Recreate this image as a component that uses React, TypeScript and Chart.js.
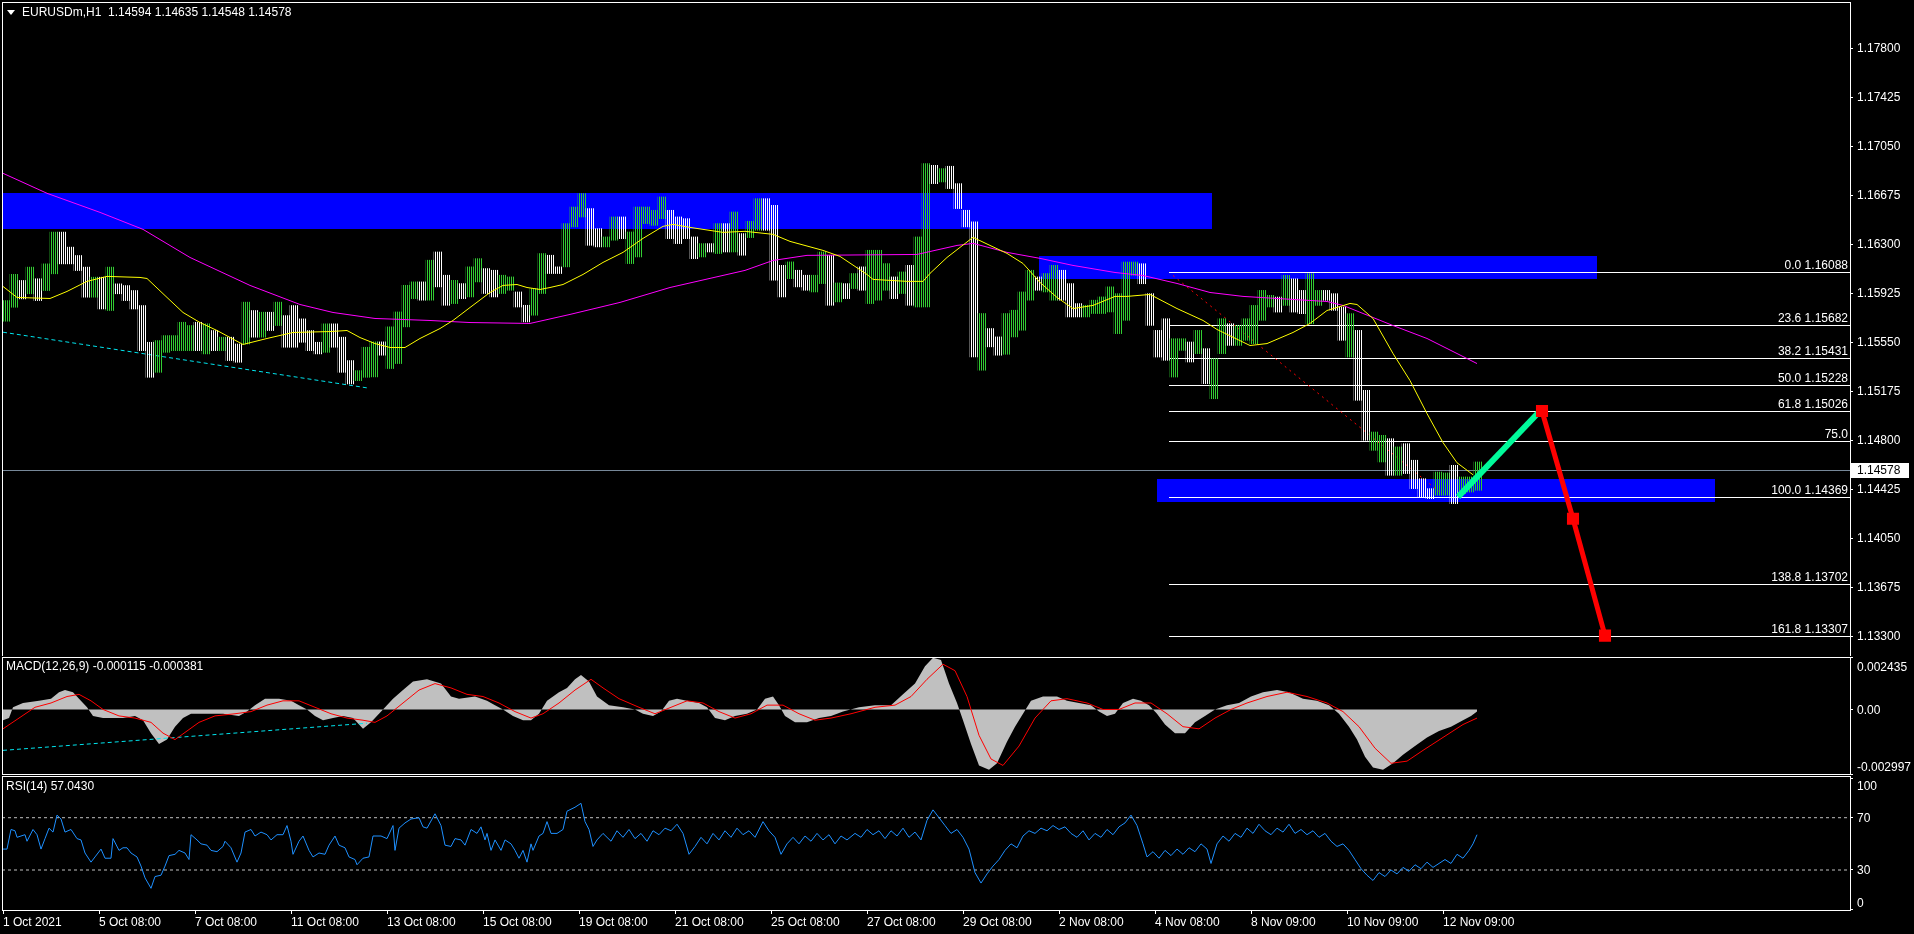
import React, { useEffect, useRef } from "react";
import { Chart, registerables } from "chart.js";

Chart.register(...registerables);

// ---------- text ----------
const titleText = "EURUSDm,H1  1.14594 1.14635 1.14548 1.14578";
const macdTitle = "MACD(12,26,9) -0.000115 -0.000381";
const rsiTitle = "RSI(14) 57.0430";
const lastPrice = 1.14578;
const lastPriceLabel = "1.14578";

// ---------- time axis (bar index) ----------
const timeTickBars = [0, 48, 96, 144, 192, 240, 288, 336, 384, 432, 480, 528, 576, 624, 672, 720];
const timeTickLabels = [
  "1 Oct 2021", "5 Oct 08:00", "7 Oct 08:00", "11 Oct 08:00", "13 Oct 08:00", "15 Oct 08:00",
  "19 Oct 08:00", "21 Oct 08:00", "25 Oct 08:00", "27 Oct 08:00", "29 Oct 08:00", "2 Nov 08:00",
  "4 Nov 08:00", "8 Nov 09:00", "10 Nov 09:00", "12 Nov 09:00",
];
const X_MIN = -0.5;
const X_MAX = 923.5;

// ---------- price axis ----------
const priceTicks = [1.133, 1.13675, 1.1405, 1.14425, 1.148, 1.15175, 1.1555, 1.15925, 1.163, 1.16675, 1.1705, 1.17425, 1.178];
const PRICE_MIN = 1.13151;
const PRICE_MAX = 1.18156;

// ---------- candles, 4 hourly bars per group ----------
const BARS_PER_GROUP = 4;
const candleHigh = [
  1.15871, 1.16072, 1.16025, 1.16127, 1.16038, 1.16152, 1.16395, 1.16395, 1.16280, 1.16216,
  1.16127, 1.16050, 1.16050, 1.16127, 1.15999, 1.15986, 1.15948, 1.15833, 1.15552, 1.15565,
  1.15603, 1.15603, 1.15705, 1.15680, 1.15705, 1.15693, 1.15642, 1.15591, 1.15591, 1.15539,
  1.15859, 1.15795, 1.15782, 1.15782, 1.15859, 1.15756, 1.15833, 1.15731, 1.15642, 1.15552,
  1.15693, 1.15693, 1.15591, 1.15412, 1.15335, 1.15514, 1.15555, 1.15555, 1.15670, 1.15784,
  1.15988, 1.16014, 1.16014, 1.16180, 1.16243, 1.16065, 1.16026, 1.16001, 1.16129, 1.16192,
  1.16116, 1.16103, 1.16065, 1.16052, 1.15937, 1.15835, 1.15963, 1.16231, 1.16218, 1.16129,
  1.16460, 1.16587, 1.16690, 1.16575, 1.16422, 1.16358, 1.16511, 1.16511, 1.16396, 1.16587,
  1.16587, 1.16562, 1.16664, 1.16562, 1.16511, 1.16498, 1.16358, 1.16307, 1.16307, 1.16460,
  1.16460, 1.16549, 1.16384, 1.16478, 1.16651, 1.16651, 1.16600, 1.16141, 1.16167, 1.16103,
  1.16065, 1.16065, 1.16243, 1.16218, 1.16006, 1.16001, 1.16078, 1.16129, 1.16256, 1.16256,
  1.16154, 1.16052, 1.16090, 1.16141, 1.16358, 1.16919, 1.16906, 1.16881, 1.16899, 1.16766,
  1.16562, 1.16473, 1.15772, 1.15657, 1.15593, 1.15772, 1.15797, 1.15937, 1.16103, 1.16052,
  1.16078, 1.16141, 1.16103, 1.16001, 1.15848, 1.15835, 1.15874, 1.15899, 1.15976, 1.15924,
  1.16166, 1.16166, 1.16153, 1.15924, 1.15643, 1.15732, 1.15579, 1.15579, 1.15554, 1.15643,
  1.15503, 1.15426, 1.15732, 1.15694, 1.15681, 1.15732, 1.15834, 1.15949, 1.15911, 1.15898,
  1.16064, 1.16038, 1.15949, 1.16077, 1.15949, 1.15949, 1.15924, 1.15822, 1.15771, 1.15643,
  1.15184, 1.14865, 1.14840, 1.14814, 1.14751, 1.14776, 1.14649, 1.14508, 1.14432, 1.14559,
  1.14552, 1.14610, 1.14521, 1.14521, 1.14636,
];
const candleLow = [
  1.15713, 1.15820, 1.15884, 1.15923, 1.15871, 1.15948, 1.16076, 1.16152, 1.16152, 1.16101,
  1.15897, 1.15897, 1.15807, 1.15795, 1.15923, 1.15871, 1.15807, 1.15488, 1.15284, 1.15322,
  1.15475, 1.15488, 1.15488, 1.15488, 1.15488, 1.15463, 1.15488, 1.15488, 1.15412, 1.15399,
  1.15539, 1.15591, 1.15591, 1.15642, 1.15680, 1.15514, 1.15514, 1.15552, 1.15488, 1.15463,
  1.15475, 1.15514, 1.15322, 1.15233, 1.15258, 1.15284, 1.15287, 1.15453, 1.15351, 1.15389,
  1.15670, 1.15886, 1.15874, 1.15874, 1.15976, 1.15835, 1.15848, 1.15886, 1.15899, 1.16014,
  1.15925, 1.15899, 1.15925, 1.15950, 1.15822, 1.15708, 1.15759, 1.15925, 1.16078, 1.16078,
  1.16129, 1.16435, 1.16511, 1.16294, 1.16282, 1.16282, 1.16333, 1.16345, 1.16154, 1.16205,
  1.16460, 1.16447, 1.16498, 1.16345, 1.16307, 1.16345, 1.16192, 1.16205, 1.16243, 1.16231,
  1.16243, 1.16243, 1.16218, 1.16353, 1.16409, 1.16409, 1.16027, 1.15899, 1.16039, 1.15976,
  1.15950, 1.15937, 1.16001, 1.15835, 1.15861, 1.15886, 1.15963, 1.15950, 1.15848, 1.15874,
  1.15950, 1.15886, 1.15925, 1.15835, 1.15822, 1.15822, 1.16766, 1.16779, 1.16728, 1.16575,
  1.16435, 1.15440, 1.15338, 1.15517, 1.15453, 1.15460, 1.15593, 1.15644, 1.15874, 1.15950,
  1.15937, 1.15874, 1.15874, 1.15746, 1.15746, 1.15746, 1.15772, 1.15772, 1.15784, 1.15618,
  1.15720, 1.16064, 1.16000, 1.15681, 1.15439, 1.15414, 1.15286, 1.15490, 1.15401, 1.15465,
  1.15235, 1.15120, 1.15465, 1.15528, 1.15528, 1.15567, 1.15541, 1.15720, 1.15822, 1.15783,
  1.15834, 1.15783, 1.15771, 1.15694, 1.15834, 1.15873, 1.15796, 1.15567, 1.15439, 1.15108,
  1.14802, 1.14725, 1.14636, 1.14534, 1.14534, 1.14547, 1.14432, 1.14368, 1.14355, 1.14381,
  1.14381, 1.14317, 1.14394, 1.14406, 1.14419,
];
const candleUp = [
  1, 1, 0, 1, 0, 1, 1, 0, 0, 0,  0, 1, 0, 1, 0, 0, 0, 0, 0, 1,
  1, 1, 1, 1, 0, 1, 0, 1, 0, 0,  1, 0, 1, 0, 1, 0, 0, 0, 0, 0,
  1, 0, 0, 0, 1, 1, 1, 0, 1, 1,  1, 1, 0, 1, 0, 0, 1, 0, 1, 1,
  0, 0, 1, 1, 0, 0, 1, 1, 0, 0,  1, 1, 1, 0, 0, 1, 1, 0, 1, 1,
  1, 1, 1, 0, 0, 0, 0, 1, 0, 1,  0, 1, 0, 1, 1, 0, 0, 0, 1, 0,
  0, 1, 1, 0, 1, 0, 1, 0, 1, 1,  1, 0, 1, 0, 1, 1, 0, 1, 0, 0,
  0, 0, 1, 0, 0, 1, 1, 1, 1, 0,  1, 1, 0, 0, 0, 1, 1, 1, 1, 1,
  1, 1, 0, 0, 0, 0, 1, 1, 0, 1,  0, 1, 1, 0, 1, 1, 1, 1, 1, 0,
  1, 0, 0, 1, 1, 0, 0, 0, 1, 0,  0, 1, 1, 0, 1, 0, 0, 0, 0, 1,
  1, 0, 1, 1, 1,
];

// ---------- moving averages [bar, price] ----------
const maSlow = [
  [0, 1.16845], [22, 1.16692], [48.5, 1.16546], [70, 1.16416], [93.5, 1.16201], [123.5, 1.15987],
  [148.5, 1.15841], [165, 1.1578], [186, 1.15734], [213, 1.15719], [233.5, 1.15703], [263.5, 1.15696],
  [283.5, 1.15765], [308.5, 1.15857], [333.5, 1.15971], [371, 1.16102], [385, 1.16178], [402, 1.16217],
  [457, 1.16224], [477, 1.16293], [485, 1.16309], [502, 1.1624], [518.5, 1.16194], [535, 1.1614],
  [556, 1.16086], [570, 1.16063], [587, 1.16002], [603.5, 1.15933], [620, 1.15903], [637, 1.15887],
  [662, 1.15864], [670, 1.15834], [695, 1.1568], [712, 1.15581], [737, 1.15389],
];
const maFast = [
  [0, 1.15979], [7, 1.15895], [23.5, 1.15887], [32, 1.15941], [42, 1.16018], [52, 1.16056],
  [68.5, 1.16048], [72, 1.1604], [82, 1.15895], [90, 1.1578], [98.5, 1.15703], [107, 1.15642],
  [120, 1.15535], [132, 1.15581], [145, 1.15627], [163.5, 1.15634], [172, 1.15642], [178.5, 1.15588],
  [186, 1.15542], [193.5, 1.15512], [201, 1.15512], [208.5, 1.15581], [218.5, 1.15657], [225, 1.15719],
  [233.5, 1.15818], [243.5, 1.15933], [250, 1.15987], [257, 1.15994], [262, 1.15971], [268.5, 1.15956],
  [273.5, 1.15971], [280, 1.15994], [290, 1.16071], [300, 1.16163], [310, 1.1624], [320, 1.16347],
  [330, 1.16439], [335, 1.16454], [343.5, 1.16431], [350, 1.16416], [360, 1.16393], [371, 1.16401],
  [385, 1.16378], [393.5, 1.16324], [410, 1.16255], [418.5, 1.16209], [432, 1.16071], [435, 1.16033],
  [452, 1.16018], [460, 1.16018], [463.5, 1.16079], [472, 1.16201], [485, 1.16355], [493.5, 1.16293],
  [502, 1.16232], [510, 1.16155], [518.5, 1.1601], [527, 1.15895], [535, 1.1581], [545, 1.15834],
  [556, 1.15903], [562, 1.15903], [573.5, 1.15918], [587, 1.1581], [600, 1.15719], [607, 1.1565],
  [623.5, 1.15527], [632, 1.15542], [645, 1.15627], [653.5, 1.15696], [662, 1.15795], [673.5, 1.15849],
  [677, 1.15841], [685, 1.15734], [695, 1.15466], [703.5, 1.15259], [712, 1.15006], [720, 1.14784],
  [727, 1.1463], [735, 1.14538],
];

// ---------- drawn objects ----------
// [fromBar, toBar, topPrice, bottomPrice]
const zones = [
  [-0.5, 604.5, 1.16692, 1.16416],
  [518, 797, 1.16209, 1.16033],
  [577, 856, 1.14508, 1.14331],
];
const fiboStartBar = 583;
const fiboPrices = [1.16088, 1.15682, 1.15431, 1.15228, 1.15026, 1.14799, 1.14369, 1.13702, 1.13307];
const fiboLabels = ["0.0 1.16088", "23.6 1.15682", "38.2 1.15431", "50.0 1.15228", "61.8 1.15026", "75.0", "100.0 1.14369", "138.8 1.13702", "161.8 1.13307"];
const supportTrend = [[0, 1.15629], [182, 1.15203]];
const resistanceTrend = [[585, 1.16063], [720, 1.14385]];
const upLeg = [[727.5, 1.14369], [768.5, 1.15026]];
const downLeg = [[769.5, 1.15026], [785, 1.14201], [801, 1.13307]];

// ---------- MACD ----------
const MACD_MIN = -0.002997;
const MACD_MAX = 0.002435;
const macdHist = [
  [0, -0.0005], [3, -0.0004], [5, 0.0001], [10, 0.0003], [18, 0.0004], [24, 0.0005], [28, 0.0008], [31, 0.0009],
  [35, 0.0008], [38, 0.0005], [42, 0.0001], [45, -0.0003], [50, -0.0004], [60, -0.0004], [66, -0.0003], [70, -0.0005],
  [74, -0.0011], [78, -0.0016], [82, -0.0014], [86, -0.0008], [90, -0.0004], [94, -0.0002], [100, -0.0002], [110, -0.0002],
  [118, -0.0003], [122, -0.0001], [126, 0.0002], [131, 0.0005], [138, 0.0005], [144, 0.0004], [148, 0.0002], [152, 0],
  [156, -0.0003], [160, -0.0005], [165, -0.0004], [170, -0.0003], [175, -0.0004], [180, -0.0009], [184, -0.0006], [190, 0],
  [195, 0.0005], [200, 0.0009], [205, 0.0013], [212, 0.0014], [219, 0.0012], [224, 0.0006], [228, 0.0005], [236, 0.0006],
  [242, 0.0004], [246, 0.0002], [250, 0], [255, -0.0003], [260, -0.0005], [264, -0.0005], [268, -0.0002], [272, 0.0004],
  [278, 0.0008], [282, 0.001], [286, 0.0014], [289, 0.0016], [293, 0.0013], [297, 0.0006], [303, 0.0002], [310, 0.0001],
  [316, 0], [320, -0.0002], [325, -0.0003], [329, -0.0001], [333, 0.0004], [337, 0.0005], [342, 0.0004], [348, 0.0003],
  [352, 0.0001], [356, -0.0004], [361, -0.0005], [366, -0.0003], [372, -0.0002], [377, 0], [381, 0.0005], [385, 0.0006],
  [388, 0.0002], [391, -0.0003], [396, -0.0006], [402, -0.0006], [408, -0.0004], [414, -0.0003], [420, -0.0001], [428, 0.0001],
  [436, 0.0002], [444, 0.0002], [450, 0.0007], [456, 0.0012], [461, 0.002], [465, 0.0024], [469, 0.0023], [473, 0.0012],
  [477, 0.0003], [480, -0.0005], [484, -0.0016], [488, -0.0026], [493, -0.0028], [497, -0.0025], [502, -0.0015], [506, -0.0008],
  [510, -0.0002], [514, 0.0004], [520, 0.0006], [527, 0.0006], [532, 0.0004], [538, 0.0003], [544, 0.0002], [548, -0.0001],
  [552, -0.0003], [556, -0.0002], [560, 0.0003], [565, 0.0005], [569, 0.0004], [573, 0.0002], [577, -0.0002], [581, -0.0007],
  [586, -0.0011], [591, -0.0011], [596, -0.0006], [601, -0.0003], [606, 0], [612, 0.0002], [618, 0.0003], [624, 0.0006],
  [630, 0.0008], [637, 0.0009], [643, 0.0008], [650, 0.0005], [657, 0.0004], [663, 0.0002], [668, -0.0002], [673, -0.0008],
  [677, -0.0014], [681, -0.0022], [685, -0.0027], [690, -0.0028], [695, -0.0025], [700, -0.0021], [706, -0.0017], [712, -0.0013],
  [718, -0.001], [724, -0.0008], [730, -0.0005], [734, -0.0003], [737, -0.0001],
];
const macdSignal = [
  [0, -0.0009], [8, -0.0004], [16, 0.0001], [24, 0.0003], [32, 0.0006], [38, 0.0007], [44, 0.0004], [50, 0],
  [58, -0.0003], [66, -0.0004], [74, -0.0006], [80, -0.0011], [86, -0.0014], [92, -0.001], [98, -0.0006], [106, -0.0003],
  [116, -0.0002], [124, -0.0001], [132, 0.0002], [140, 0.0004], [148, 0.0004], [156, 0.0001], [164, -0.0002], [172, -0.0004],
  [180, -0.0005], [186, -0.0006], [192, -0.0003], [200, 0.0003], [208, 0.0009], [216, 0.0012], [224, 0.001], [232, 0.0007],
  [240, 0.0006], [248, 0.0003], [256, -0.0001], [264, -0.0004], [270, -0.0002], [278, 0.0003], [286, 0.0009], [294, 0.0014],
  [300, 0.001], [308, 0.0005], [318, 0.0001], [326, -0.0002], [334, 0.0001], [342, 0.0004], [350, 0.0003], [358, -0.0001],
  [366, -0.0004], [374, -0.0002], [382, 0.0002], [390, 0.0002], [398, -0.0002], [406, -0.0005], [414, -0.0004], [424, -0.0002],
  [436, 0.0001], [446, 0.0002], [454, 0.0006], [462, 0.0014], [470, 0.0021], [476, 0.0018], [482, 0.0006], [488, -0.0012],
  [494, -0.0023], [500, -0.0026], [508, -0.0017], [516, -0.0004], [524, 0.0004], [532, 0.0005], [542, 0.0003], [550, 0],
  [558, 0], [566, 0.0003], [574, 0.0003], [582, -0.0002], [590, -0.0008], [598, -0.0009], [606, -0.0004], [614, 0],
  [622, 0.0003], [632, 0.0006], [642, 0.0008], [652, 0.0006], [662, 0.0003], [670, -0.0001], [678, -0.0008], [686, -0.0018],
  [694, -0.0025], [702, -0.0024], [710, -0.0019], [720, -0.0013], [730, -0.0007], [737, -0.0004],
];
const macdTrend = [[0, -0.0019], [182, -0.00064]];
const macdTickValues = [MACD_MIN, 0, MACD_MAX];
const macdTickLabels = ["-0.002997", "0.00", "0.002435"];

// ---------- RSI ----------
const RSI_MIN = -0.6;
const RSI_MAX = 101.9;
const rsiValues = [
  [0, 46], [2, 46], [4, 61], [6, 60], [7, 55], [9, 56], [11, 57], [12, 52], [15, 61], [17, 57], [19, 46], [21, 54],
  [23, 62], [25, 59], [27, 72], [29, 69], [31, 59], [34, 61], [37, 54], [39, 53], [41, 43], [44, 36], [46, 40], [49, 46],
  [51, 39], [54, 39], [55, 54], [58, 45], [60, 47], [62, 47], [64, 43], [67, 40], [69, 33], [71, 24], [74, 16], [76, 25],
  [79, 26], [81, 33], [83, 41], [86, 42], [88, 45], [91, 43], [93, 38], [94, 57], [97, 53], [99, 50], [102, 49], [104, 45],
  [107, 44], [110, 48], [111, 52], [114, 47], [117, 36], [119, 43], [121, 59], [124, 61], [126, 56], [129, 59], [132, 57],
  [134, 53], [137, 57], [140, 57], [142, 64], [144, 52], [145, 42], [148, 52], [150, 56], [153, 45], [155, 40], [158, 43],
  [161, 42], [163, 49], [166, 56], [168, 49], [171, 47], [173, 40], [176, 38], [177, 34], [180, 39], [183, 40], [185, 56],
  [189, 56], [192, 54], [195, 64], [196, 45], [198, 62], [201, 66], [204, 69], [208, 70], [210, 63], [212, 62], [216, 73],
  [219, 64], [221, 49], [224, 48], [226, 54], [229, 53], [231, 49], [234, 61], [237, 58], [239, 63], [241, 53], [242, 58],
  [244, 45], [246, 53], [249, 45], [251, 53], [254, 50], [256, 45], [258, 39], [260, 45], [262, 36], [264, 50], [265, 45],
  [268, 56], [270, 58], [272, 67], [274, 58], [277, 58], [280, 61], [282, 75], [286, 78], [289, 81], [291, 67], [293, 61],
  [295, 48], [297, 53], [300, 58], [304, 52], [307, 60], [310, 55], [313, 61], [316, 54], [319, 58], [322, 52], [325, 60],
  [328, 57], [331, 62], [334, 60], [337, 65], [340, 58], [343, 42], [346, 48], [349, 55], [352, 50], [355, 58], [358, 53],
  [361, 60], [364, 55], [367, 62], [370, 57], [373, 60], [376, 55], [380, 67], [383, 60], [386, 55], [389, 42], [392, 50],
  [395, 55], [398, 50], [401, 56], [404, 52], [407, 58], [410, 53], [413, 57], [416, 50], [419, 56], [422, 53], [426, 58],
  [429, 55], [432, 61], [435, 57], [438, 60], [441, 54], [444, 60], [447, 56], [450, 62], [453, 55], [456, 59], [459, 53],
  [462, 68], [465, 76], [468, 70], [471, 64], [474, 58], [477, 61], [480, 55], [483, 46], [486, 28], [489, 20], [492, 27],
  [495, 33], [498, 38], [501, 45], [504, 50], [507, 47], [510, 56], [513, 60], [516, 58], [519, 62], [522, 60], [525, 64],
  [528, 61], [531, 63], [534, 58], [537, 55], [540, 60], [543, 53], [546, 58], [549, 55], [552, 61], [555, 57], [558, 63],
  [561, 66], [564, 72], [567, 64], [570, 50], [572, 40], [575, 44], [578, 39], [581, 45], [584, 41], [587, 46], [590, 42],
  [593, 47], [596, 44], [599, 50], [602, 46], [604, 35], [607, 50], [610, 56], [613, 52], [616, 58], [619, 55], [622, 62],
  [625, 58], [628, 65], [631, 60], [634, 57], [637, 62], [640, 59], [643, 65], [646, 58], [649, 61], [652, 57], [655, 60],
  [658, 55], [661, 58], [664, 52], [667, 48], [670, 50], [673, 45], [676, 38], [679, 31], [682, 26], [685, 22], [688, 28],
  [691, 25], [694, 30], [697, 27], [700, 32], [703, 29], [706, 34], [709, 31], [712, 36], [715, 32], [718, 35], [721, 38],
  [724, 35], [727, 42], [730, 39], [733, 45], [735, 50], [737, 57],
];
const rsiLevels = [70, 30];
const rsiTickValues = [0, 30, 70, 100];

// ---------- helpers ----------
const FAMILY = '"Liberation Sans", Arial, sans-serif';
const FONT = "12px " + FAMILY;
const pts = (a: number[][]) => a.map(([x, y]) => ({ x, y }));

function xAxis(show: boolean) {
  return {
    type: "linear",
    min: X_MIN,
    max: X_MAX,
    offset: false,
    bounds: "data",
    display: show,
    afterBuildTicks: (s: any) => {
      s.ticks = timeTickBars.map((v) => ({ value: v }));
    },
    afterFit: (s: any) => {
      s.height = show ? 24 : 0;
      s.paddingLeft = 0;
      s.paddingRight = 0;
    },
    ticks: {
      color: "#ffffff",
      font: { family: FAMILY, size: 12 },
      align: "start",
      maxRotation: 0,
      minRotation: 0,
      autoSkip: false,
      padding: 1,
      callback: (_v: any, i: number) => timeTickLabels[i],
    },
    grid: { drawOnChartArea: false, drawTicks: true, tickLength: 4, color: "#ffffff" },
    border: { display: false },
  };
}

function yAxis(min: number, max: number, tickValues: number[], showLabels: boolean) {
  return {
    type: "linear",
    position: "right",
    min,
    max,
    bounds: "data",
    afterBuildTicks: (s: any) => {
      s.ticks = tickValues.map((v) => ({ value: v }));
    },
    afterFit: (s: any) => {
      s.width = 64;
      s.paddingTop = 0;
      s.paddingBottom = 0;
    },
    ticks: {
      display: showLabels,
      color: "#ffffff",
      font: { family: FAMILY, size: 12 },
      padding: 4,
      autoSkip: false,
      callback: (v: any) => Number(v).toFixed(5),
    },
    grid: { drawOnChartArea: false, drawTicks: true, tickLength: 3, color: "#ffffff" },
    border: { display: false },
  };
}

function drawFrame(chart: any) {
  const { ctx, chartArea: a } = chart;
  ctx.save();
  ctx.fillStyle = "#ffffff";
  const w = Math.round(a.right - a.left) + 1;
  const h = Math.round(a.bottom - a.top) + 1;
  ctx.fillRect(a.left, a.top, w, 1);
  ctx.fillRect(a.left, a.bottom, w, 1);
  ctx.fillRect(a.left, a.top, 1, h);
  ctx.fillRect(a.right, a.top, 1, h);
  ctx.restore();
}

function drawSideLabels(chart: any, values: number[], labels: string[]) {
  const { ctx, chartArea: a } = chart;
  const y = chart.scales.y;
  ctx.save();
  ctx.font = FONT;
  ctx.fillStyle = "#ffffff";
  ctx.textAlign = "left";
  ctx.textBaseline = "middle";
  values.forEach((v, i) => {
    let py = y.getPixelForValue(v);
    py = Math.min(Math.max(py, a.top + 9.5), a.bottom - 7);
    ctx.fillText(labels[i], a.right + 7, py + 1);
  });
  ctx.restore();
}

function drawTitle(chart: any, text: string, yCenter: number) {
  const { ctx } = chart;
  ctx.save();
  ctx.font = FONT;
  ctx.fillStyle = "#ffffff";
  ctx.textAlign = "left";
  ctx.textBaseline = "middle";
  ctx.fillText(text, 6, yCenter);
  ctx.restore();
}

function stripes(color: string) {
  const c = document.createElement("canvas");
  c.width = 2;
  c.height = 1;
  const g = c.getContext("2d")!;
  g.fillStyle = color;
  g.fillRect(1, 0, 1, 1);
  return c;
}

const lineDs = (data: number[][], color: string, width: number, dash: number[] = []) => ({
  type: "line",
  data: pts(data),
  borderColor: color,
  borderWidth: width,
  borderDash: dash,
  pointRadius: 0,
  tension: 0,
  fill: false,
});

const baseOptions = (padTop: number, padBottom: number) => ({
  responsive: false,
  animation: false,
  events: [],
  layout: { autoPadding: false, padding: { left: 2, top: padTop, right: 0, bottom: padBottom } },
  plugins: { legend: { display: false }, tooltip: { enabled: false } },
});

export default function App() {
  const mainRef = useRef<HTMLCanvasElement>(null);
  const macdRef = useRef<HTMLCanvasElement>(null);
  const rsiRef = useRef<HTMLCanvasElement>(null);

  useEffect(() => {
    const charts: Chart[] = [];
    Chart.defaults.font.family = FAMILY;

    // ---------- main price pane ----------
    const mctx = mainRef.current!.getContext("2d")!;
    const greenPat = mctx.createPattern(stripes("#32cd32"), "repeat");
    const whitePat = mctx.createPattern(stripes("#ffffff"), "repeat");

    const mainBackground = {
      id: "mainBackground",
      beforeDatasetsDraw(chart: any) {
        const { ctx, chartArea: a } = chart;
        const x = chart.scales.x;
        const y = chart.scales.y;
        ctx.save();
        ctx.beginPath();
        ctx.rect(a.left, a.top, a.right - a.left, a.bottom - a.top);
        ctx.clip();
        ctx.fillStyle = "#0000ff";
        zones.forEach(([b0, b1, p0, p1]) => {
          const xa = Math.round(x.getPixelForValue(b0));
          const xb = Math.round(x.getPixelForValue(b1));
          const ya = Math.round(y.getPixelForValue(p0));
          const yb = Math.round(y.getPixelForValue(p1));
          ctx.fillRect(xa, ya, xb - xa, yb - ya);
        });
        ctx.fillStyle = "#778899";
        ctx.fillRect(a.left, Math.round(y.getPixelForValue(lastPrice)), a.right - a.left, 1);
        ctx.fillStyle = "#ffffff";
        const fx = Math.round(x.getPixelForValue(fiboStartBar));
        fiboPrices.forEach((p) => {
          ctx.fillRect(fx, Math.round(y.getPixelForValue(p)), a.right - fx, 1);
        });
        ctx.restore();
      },
      afterDraw(chart: any) {
        const { ctx, chartArea: a } = chart;
        const y = chart.scales.y;
        drawFrame(chart);
        ctx.save();
        ctx.font = FONT;
        ctx.fillStyle = "#ffffff";
        ctx.textAlign = "right";
        ctx.textBaseline = "alphabetic";
        fiboPrices.forEach((p, i) => {
          ctx.fillText(fiboLabels[i], a.right - 2, Math.round(y.getPixelForValue(p)) - 3);
        });
        // title
        ctx.beginPath();
        ctx.moveTo(7, 10);
        ctx.lineTo(15, 10);
        ctx.lineTo(11, 15);
        ctx.closePath();
        ctx.fill();
        ctx.textAlign = "left";
        ctx.textBaseline = "middle";
        ctx.fillText(titleText, 22, 13);
        // current price box
        const py = Math.round(y.getPixelForValue(lastPrice));
        ctx.fillStyle = "#ffffff";
        ctx.fillRect(a.right + 1, py - 7, 58, 15);
        ctx.fillStyle = "#000000";
        ctx.fillText(lastPriceLabel, a.right + 7, py + 1);
        ctx.restore();
      },
    };

    charts.push(
      new Chart(mainRef.current!, {
        type: "bar",
        data: {
          datasets: [
            {
              ...lineDs(downLeg, "#ff0000", 5),
              pointRadius: 5,
              pointStyle: "rect",
              pointBackgroundColor: "#ff0000",
              pointBorderColor: "#ff0000",
              borderCapStyle: "butt",
            },
            { ...lineDs(upLeg, "#00fa9a", 6), borderCapStyle: "butt" },
            lineDs(maFast, "#ffff00", 1),
            lineDs(maSlow, "#ff00ff", 1),
            {
              type: "bar",
              data: candleHigh.map((h, i) => ({ x: i * BARS_PER_GROUP + 1.5, y: [candleLow[i], h] })),
              backgroundColor: (c: any) => (candleUp[c.dataIndex] ? greenPat : whitePat),
              borderWidth: 0,
              borderSkipped: false,
              barThickness: 8,
            },
            lineDs(supportTrend, "#00e5ee", 1, [4, 3]),
            lineDs(resistanceTrend, "#ff0000", 1, [2, 4]),
          ] as any,
        },
        options: {
          ...baseOptions(2, 0),
          scales: {
            x: xAxis(false) as any,
            y: yAxis(PRICE_MIN, PRICE_MAX, priceTicks, true) as any,
          },
        } as any,
        plugins: [mainBackground],
      })
    );

    // ---------- MACD pane ----------
    const macdOverlay = {
      id: "macdOverlay",
      afterDraw(chart: any) {
        drawFrame(chart);
        drawSideLabels(chart, macdTickValues, macdTickLabels);
        drawTitle(chart, macdTitle, 11);
      },
    };
    charts.push(
      new Chart(macdRef.current!, {
        type: "line",
        data: {
          datasets: [
            lineDs(macdSignal, "#ff0000", 1),
            lineDs(macdTrend, "#00e5ee", 1, [4, 3]),
            {
              ...lineDs(macdHist, "rgba(0,0,0,0)", 0),
              fill: "origin",
              backgroundColor: "#c0c0c0",
            },
          ] as any,
        },
        options: {
          ...baseOptions(1, 1),
          scales: {
            x: xAxis(false) as any,
            y: yAxis(MACD_MIN, MACD_MAX, macdTickValues, false) as any,
          },
        } as any,
        plugins: [macdOverlay],
      })
    );

    // ---------- RSI pane ----------
    const rsiOverlay = {
      id: "rsiOverlay",
      afterDraw(chart: any) {
        drawFrame(chart);
        drawSideLabels(chart, rsiTickValues, rsiTickValues.map(String));
        drawTitle(chart, rsiTitle, 12);
      },
    };
    charts.push(
      new Chart(rsiRef.current!, {
        type: "line",
        data: {
          datasets: [
            lineDs(rsiValues, "#1e90ff", 1),
            ...rsiLevels.map((lv) => lineDs([[X_MIN, lv], [X_MAX, lv]], "#c0c0c0", 1, [3, 3])),
          ] as any,
        },
        options: {
          ...baseOptions(1, 0),
          scales: {
            x: xAxis(true) as any,
            y: yAxis(RSI_MIN, RSI_MAX, rsiTickValues, false) as any,
          },
        } as any,
        plugins: [rsiOverlay],
      })
    );

    return () => charts.forEach((c) => c.destroy());
  }, []);

  const canvasStyle = (top: number, height: number) =>
    ({ position: "absolute", left: 0, top, width: 1914, height, display: "block" } as React.CSSProperties);

  return (
    <div style={{ position: "fixed", left: 0, top: 0, width: 1914, height: 934, background: "#000000", overflow: "hidden" }}>
      <canvas ref={mainRef} width={1914} height={656} style={canvasStyle(0, 656)} />
      <canvas ref={macdRef} width={1914} height={119} style={canvasStyle(656, 119)} />
      <canvas ref={rsiRef} width={1914} height={159} style={canvasStyle(775, 159)} />
    </div>
  );
}
